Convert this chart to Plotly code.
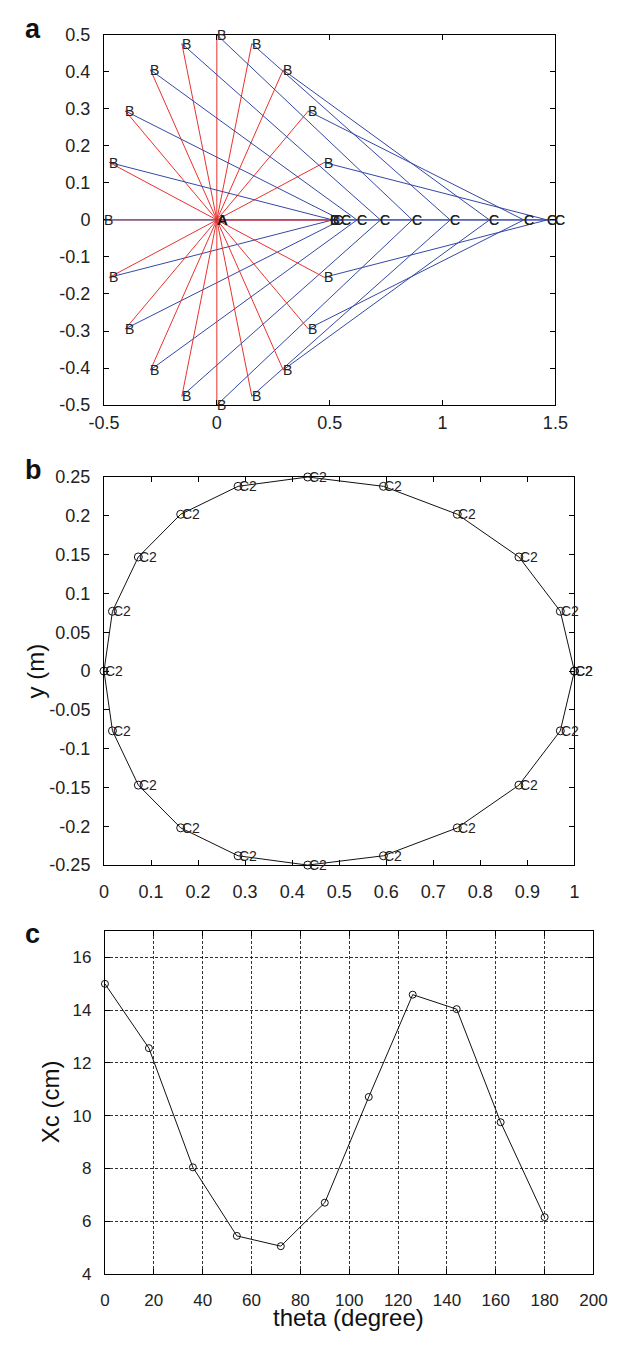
import plotly.graph_objects as go

# ---------------- Panel a data (crank A-B, rod B-C) ----------------
theta_a = [0, 18, 36, 54, 72, 90, 108, 126, 144, 162, 180,
           198, 216, 234, 252, 270, 288, 306, 324, 342, 360]
bx = [0.5, 0.476, 0.405, 0.294, 0.155, 0.0, -0.155, -0.294, -0.405, -0.476, -0.5,
      -0.476, -0.405, -0.294, -0.155, 0.0, 0.155, 0.294, 0.405, 0.476, 0.5]
by = [0.0, 0.155, 0.294, 0.405, 0.476, 0.5, 0.476, 0.405, 0.294, 0.155, 0.0,
      -0.155, -0.294, -0.405, -0.476, -0.5, -0.476, -0.405, -0.294, -0.155, 0.0]
cx = [1.5, 1.464, 1.360, 1.208, 1.034, 0.866, 0.725, 0.621, 0.551, 0.513, 0.5,
      0.513, 0.551, 0.621, 0.725, 0.866, 1.034, 1.208, 1.360, 1.464, 1.5]
cy = [0.0, 0.0, 0.0, 0.0, 0.0, 0.0, 0.0, 0.0, 0.0, 0.0, 0.0,
      0.0, 0.0, 0.0, 0.0, 0.0, 0.0, 0.0, 0.0, 0.0, 0.0]
a_x = [0.0]
a_y = [0.0]

# ---------------- Panel b data (C2 points) ----------------
c2x = [1.0, 0.970, 0.882, 0.751, 0.594, 0.433, 0.285, 0.163, 0.073, 0.018, 0.0,
       0.018, 0.073, 0.163, 0.285, 0.433, 0.594, 0.751, 0.882, 0.970, 1.0]
c2y = [0.0, 0.077, 0.147, 0.202, 0.238, 0.25, 0.238, 0.202, 0.147, 0.077, 0.0,
       -0.077, -0.147, -0.202, -0.238, -0.25, -0.238, -0.202, -0.147, -0.077, 0.0]

# ---------------- Panel c data ----------------
theta_c = [0, 18, 36, 54, 72, 90, 108, 126, 144, 162, 180]
xc_cm = [15.0, 12.56, 8.04, 5.44, 5.05, 6.70, 10.71, 14.59, 14.04, 9.75, 6.15]

# tick labels
a_xticks = [-0.5, 0, 0.5, 1, 1.5]
a_xtext = ["-0.5", "0", "0.5", "1", "1.5"]
a_yticks = [-0.5, -0.4, -0.3, -0.2, -0.1, 0, 0.1, 0.2, 0.3, 0.4, 0.5]
a_ytext = ["-0.5", "-0.4", "-0.3", "-0.2", "-0.1", "0", "0.1", "0.2", "0.3", "0.4", "0.5"]
b_xticks = [0, 0.1, 0.2, 0.3, 0.4, 0.5, 0.6, 0.7, 0.8, 0.9, 1]
b_xtext = ["0", "0.1", "0.2", "0.3", "0.4", "0.5", "0.6", "0.7", "0.8", "0.9", "1"]
b_yticks = [-0.25, -0.2, -0.15, -0.1, -0.05, 0, 0.05, 0.1, 0.15, 0.2, 0.25]
b_ytext = ["-0.25", "-0.2", "-0.15", "-0.1", "-0.05", "0", "0.05", "0.1", "0.15", "0.2", "0.25"]
c_xticks = [0, 20, 40, 60, 80, 100, 120, 140, 160, 180, 200]
c_yticks = [4, 6, 8, 10, 12, 14, 16]

RED = "rgb(232,50,46)"
BLUE = "rgb(52,72,165)"
FONT = "Liberation Sans, Arial, Helvetica, sans-serif"

fig = go.Figure()

# Panel a: red crank then blue rod for each angle (drawing order as original)
for i in range(len(bx)):
    fig.add_trace(go.Scatter(x=[a_x[0], bx[i]], y=[a_y[0], by[i]], mode="lines",
                             line=dict(color=RED, width=1), xaxis="x", yaxis="y",
                             hoverinfo="skip", cliponaxis=False))
    fig.add_trace(go.Scatter(x=[bx[i], cx[i]], y=[by[i], cy[i]], mode="lines",
                             line=dict(color=BLUE, width=1), xaxis="x", yaxis="y",
                             hoverinfo="skip", cliponaxis=False))

# Panel b
fig.add_trace(go.Scatter(x=c2x, y=c2y, mode="lines+markers",
                         line=dict(color="#111", width=1),
                         marker=dict(symbol="circle-open", size=8,
                                     line=dict(color="#111", width=1), color="#111"),
                         xaxis="x2", yaxis="y2", cliponaxis=False, hoverinfo="skip"))

# Panel c
fig.add_trace(go.Scatter(x=theta_c, y=xc_cm, mode="lines+markers",
                         line=dict(color="#111", width=1),
                         marker=dict(symbol="circle-open", size=7,
                                     line=dict(color="#111", width=1), color="#111"),
                         xaxis="x3", yaxis="y3", cliponaxis=False, hoverinfo="skip"))

# page is 624x1349; the browser body keeps its default 8px margin
OFF = 8
W, H = 624 - 2 * OFF, 1349 - 2 * OFF


def px(v):
    return (v - OFF) / W


def py(v):
    return 1 - (v - OFF) / H


def dom_x(l, r):
    return [px(l), px(r)]


def dom_y(top, bot):
    return [py(bot), py(top)]


def axis(size, grid=False, **kw):
    d = dict(showline=True, linecolor="black", linewidth=1, mirror="ticks",
             ticks="inside", ticklen=5, tickcolor="black", tickwidth=1,
             zeroline=False, showgrid=False, tickmode="array",
             tickfont=dict(family=FONT, size=size, color="#222"))
    if grid:
        d.update(showgrid=True, gridcolor="rgba(0,0,0,0.8)", griddash="3px,2px", gridwidth=1)
    d.update(kw)
    return d


fig.update_layout(
    width=W, height=H, margin=dict(l=0, r=0, t=0, b=0),
    paper_bgcolor="white", plot_bgcolor="white", showlegend=False,
    font=dict(family=FONT, color="#222"),
    xaxis=axis(18, domain=dom_x(92, 566), range=[-0.5, 1.5], anchor="y",
               tickvals=a_xticks, ticktext=a_xtext, ticklabelstandoff=1),
    yaxis=axis(18, domain=dom_y(25, 401), range=[-0.5, 0.5], anchor="x",
               tickvals=a_yticks, ticktext=a_ytext, ticklabelstandoff=9),
    xaxis2=axis(18, domain=dom_x(92, 586), range=[0, 1], anchor="y2",
                tickvals=b_xticks, ticktext=b_xtext, ticklabelstandoff=10),
    yaxis2=axis(18, domain=dom_y(474, 868), range=[-0.25, 0.25], anchor="x2",
                tickvals=b_yticks, ticktext=b_ytext, ticklabelstandoff=9),
    xaxis3=axis(17, grid=True, domain=dom_x(93, 606), range=[0, 200], anchor="y3",
                tickvals=c_xticks, ticklabelstandoff=11),
    yaxis3=axis(17, grid=True, domain=dom_y(935, 1283), range=[4, 17], anchor="x3",
                tickvals=c_yticks, ticklabelstandoff=9),
)

ann = []
# point labels, left-aligned at the point (as MATLAB text())
for i in range(len(bx)):
    ann.append(dict(text="B", x=bx[i], y=by[i], xref="x", yref="y", xshift=-2,
                    font=dict(family=FONT, size=14, color="#222")))
for i in range(len(cx)):
    ann.append(dict(text="C", x=cx[i], y=cy[i], xref="x", yref="y", xshift=-2,
                    font=dict(family=FONT, size=14, color="#222")))
ann.append(dict(text="<b>A</b>", x=a_x[0], y=a_y[0], xref="x", yref="y", xshift=-2,
                font=dict(family=FONT, size=15, color="#111")))
for i in range(len(c2x)):
    ann.append(dict(text="C2", x=c2x[i], y=c2y[i], xref="x2", yref="y2", xshift=-1,
                    font=dict(family=FONT, size=14, color="#222")))
for a in ann:
    a.update(showarrow=False, xanchor="left", yanchor="middle")

titles = [
    dict(text="<b>a</b>", x=px(17), y=py(19), font=dict(size=27)),
    dict(text="<b>b</b>", x=px(18), y=py(467), font=dict(size=27)),
    dict(text="<b>c</b>", x=px(17), y=py(938), font=dict(size=27)),
    dict(text="y (m)", x=px(20), y=py(671), font=dict(size=24), textangle=-90),
    dict(text="Xc (cm)", x=px(36), y=py(1108), font=dict(size=24), textangle=-90),
    dict(text="theta (degree)", x=px(349), y=py(1327), font=dict(size=24)),
]
for a in titles:
    a.update(xref="paper", yref="paper", showarrow=False, xanchor="center", yanchor="middle")
    a["font"].update(family=FONT, color="#111")

fig.update_layout(annotations=ann + titles)

fig.write_html("out.html", config={"displayModeBar": False})
